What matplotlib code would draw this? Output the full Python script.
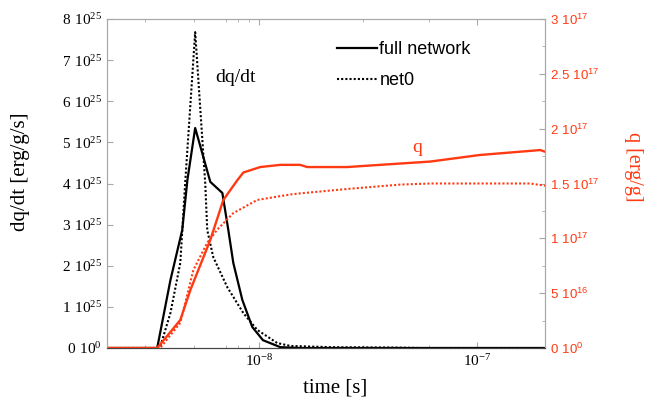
import matplotlib
matplotlib.use('Agg')
import matplotlib.pyplot as plt
from matplotlib.ticker import FixedLocator, FixedFormatter, NullFormatter

plt.rcParams['mathtext.default'] = 'regular'

# dq/dt  (units of 1e25 erg/g/s)
t_dq_full = [2.0e-9, 3.40e-9, 3.91e-9, 4.43e-9, 4.68e-9, 5.08e-9, 5.96e-9, 6.77e-9,
             7.21e-9, 7.60e-9, 8.36e-9, 9.29e-9, 1.04e-8, 1.25e-8, 1.54e-8, 2.05e-7]
dq_full = [0, 0, 1.65, 2.87, 4.09, 5.35, 4.04, 3.77, 2.87, 2.07, 1.17, 0.51, 0.19, 0.02, 0, 0]

t_dq_net0 = [2.0e-9, 3.40e-9, 3.51e-9, 3.91e-9, 4.34e-9, 4.58e-9, 5.08e-9, 5.65e-9, 5.77e-9,
             6.15e-9, 7.13e-9, 8.45e-9, 9.79e-9, 1.21e-8, 1.39e-8, 2.12e-8, 4.30e-8, 5.48e-8, 2.05e-7]
dq_net0 = [0, 0, 0.03, 0.85, 2.07, 4.09, 7.68, 4.0, 2.87, 2.21, 1.48, 0.85, 0.44, 0.12, 0.05,
           0.02, 0.01, 0, 0]

# q  (units of 1e17 erg/g)
t_q_full = [2.0e-9, 3.40e-9, 4.34e-9, 4.83e-9, 5.96e-9, 6.84e-9, 7.93e-9, 8.45e-9, 1.01e-8,
            1.25e-8, 1.54e-8, 1.66e-8, 2.53e-8, 3.59e-8, 6.09e-8, 1.03e-7, 1.95e-7, 2.05e-7]
q_full = [0, 0, 0.255, 0.53, 0.985, 1.35, 1.53, 1.60, 1.65, 1.67, 1.67, 1.65, 1.65, 1.67,
          1.70, 1.76, 1.805, 1.79]

t_q_net0 = [2.0e-9, 3.51e-9, 4.34e-9, 4.98e-9, 5.77e-9, 6.42e-9, 7.60e-9, 9.79e-9, 1.39e-8,
            1.54e-8, 2.53e-8, 4.43e-8, 6.09e-8, 1.75e-7, 2.05e-7]
q_net0 = [0, 0, 0.23, 0.71, 0.96, 1.08, 1.23, 1.35, 1.40, 1.41, 1.45, 1.49, 1.50, 1.50, 1.48]

left_ticks = [0, 1, 2, 3, 4, 5, 6, 7, 8]
left_labels = [r'$0\ 10^{0}$'] + [r'$%d\ 10^{25}$' % v for v in left_ticks[1:]]
right_ticks = [0, 0.5, 1, 1.5, 2, 2.5, 3]
right_labels = [r'$0\ 10^{0}$', r'$5\ 10^{16}$', r'$1\ 10^{17}$', r'$1.5\ 10^{17}$',
                r'$2\ 10^{17}$', r'$2.5\ 10^{17}$', r'$3\ 10^{17}$']
x_ticks = [1e-8, 1e-7]
x_labels = [r'$10^{-8}$', r'$10^{-7}$']
x_minor = [3e-9, 5e-9, 7e-9, 8e-9, 9e-9, 3e-8, 6e-8]

RED = '#ff3a12'
GREY = '#a8a8a8'
SERIF = 'Liberation Serif'
SANS = 'Liberation Sans'

fig = plt.figure(figsize=(6.46, 4.05), dpi=100)
ax = fig.add_axes([107/646, 1-348/405, (545-107)/646, (348-19)/405])
ax2 = ax.twinx()

ax.plot(t_dq_full, [v*1e25 for v in dq_full], color='black', lw=1.6, label='full network')
ax.plot(t_dq_net0, [v*1e25 for v in dq_net0], color='black', lw=1.5, ls=(0, (1, 1)), label='net0')
ax2.plot(t_q_full, [v*1e17 for v in q_full], color=RED, lw=1.7)
ax2.plot(t_q_net0, [v*1e17 for v in q_net0], color=RED, lw=1.5, ls=(0, (1, 1)))

ax.set_xscale('log')
ax.set_xlim(2.0e-9, 2.05e-7)
ax.set_ylim(0, 8e25)
ax2.set_ylim(0, 3e17)

ax.xaxis.set_major_locator(FixedLocator(x_ticks))
ax.xaxis.set_major_formatter(FixedFormatter(x_labels))
ax.xaxis.set_minor_locator(FixedLocator(x_minor))
ax.xaxis.set_minor_formatter(NullFormatter())
ax.yaxis.set_major_locator(FixedLocator([v*1e25 for v in left_ticks]))
ax.yaxis.set_major_formatter(FixedFormatter(left_labels))
ax2.yaxis.set_major_locator(FixedLocator([v*1e17 for v in right_ticks]))
ax2.yaxis.set_major_formatter(FixedFormatter(right_labels))
ax2.yaxis.set_minor_locator(FixedLocator([v*1e17 for v in [0.25, 0.75, 1.25, 1.75, 2.25, 2.75]]))

for a in (ax, ax2):
    for s in ('top', 'left', 'right'):
        a.spines[s].set_color(GREY)
    a.spines['bottom'].set_color('#444444')
ax.tick_params(axis='both', which='both', direction='in', color=GREY, top=True)
ax.tick_params(axis='both', which='major', length=4)
ax.tick_params(axis='both', which='minor', length=2.5)
ax.tick_params(axis='x', pad=4)
ax2.tick_params(axis='y', which='both', direction='in', color=GREY, labelcolor=RED)
ax2.tick_params(axis='y', which='major', length=4)
ax2.tick_params(axis='y', which='minor', length=2.5)

for lab in ax.get_yticklabels() + ax.get_xticklabels():
    lab.set_fontfamily(SERIF)
    lab.set_fontsize(11)
for lab in ax2.get_yticklabels():
    lab.set_fontfamily(SANS)
    lab.set_fontsize(9.5)

fig.text(21/646, 1-172/405, 'dq/dt [erg/g/s]', rotation=90, ha='center', va='center',
         family=SERIF, fontsize=15)
fig.text(633/646, 1-167/405, 'q [erg/g]', rotation=270, ha='center', va='center',
         family=SERIF, fontsize=14.5, color=RED)
fig.text(335/646, 1-388/405, 'time [s]', ha='center', va='center', family=SERIF, fontsize=15)
fig.text(235/646, 1-77/405, 'dq/dt', ha='center', va='center', family=SERIF, fontsize=14)
fig.text(417/646, 1-148/405, 'q', ha='center', va='center', family=SERIF, fontsize=14, color=RED)

leg = ax.legend(loc='upper left', bbox_to_anchor=(337/646, 1-41/405), bbox_transform=fig.transFigure,
                frameon=False, handlelength=2.2, handletextpad=0.15, labelspacing=0.8,
                prop={'family': SANS, 'size': 13}, borderaxespad=0, borderpad=0)

fig.savefig('out.png', dpi=100)
